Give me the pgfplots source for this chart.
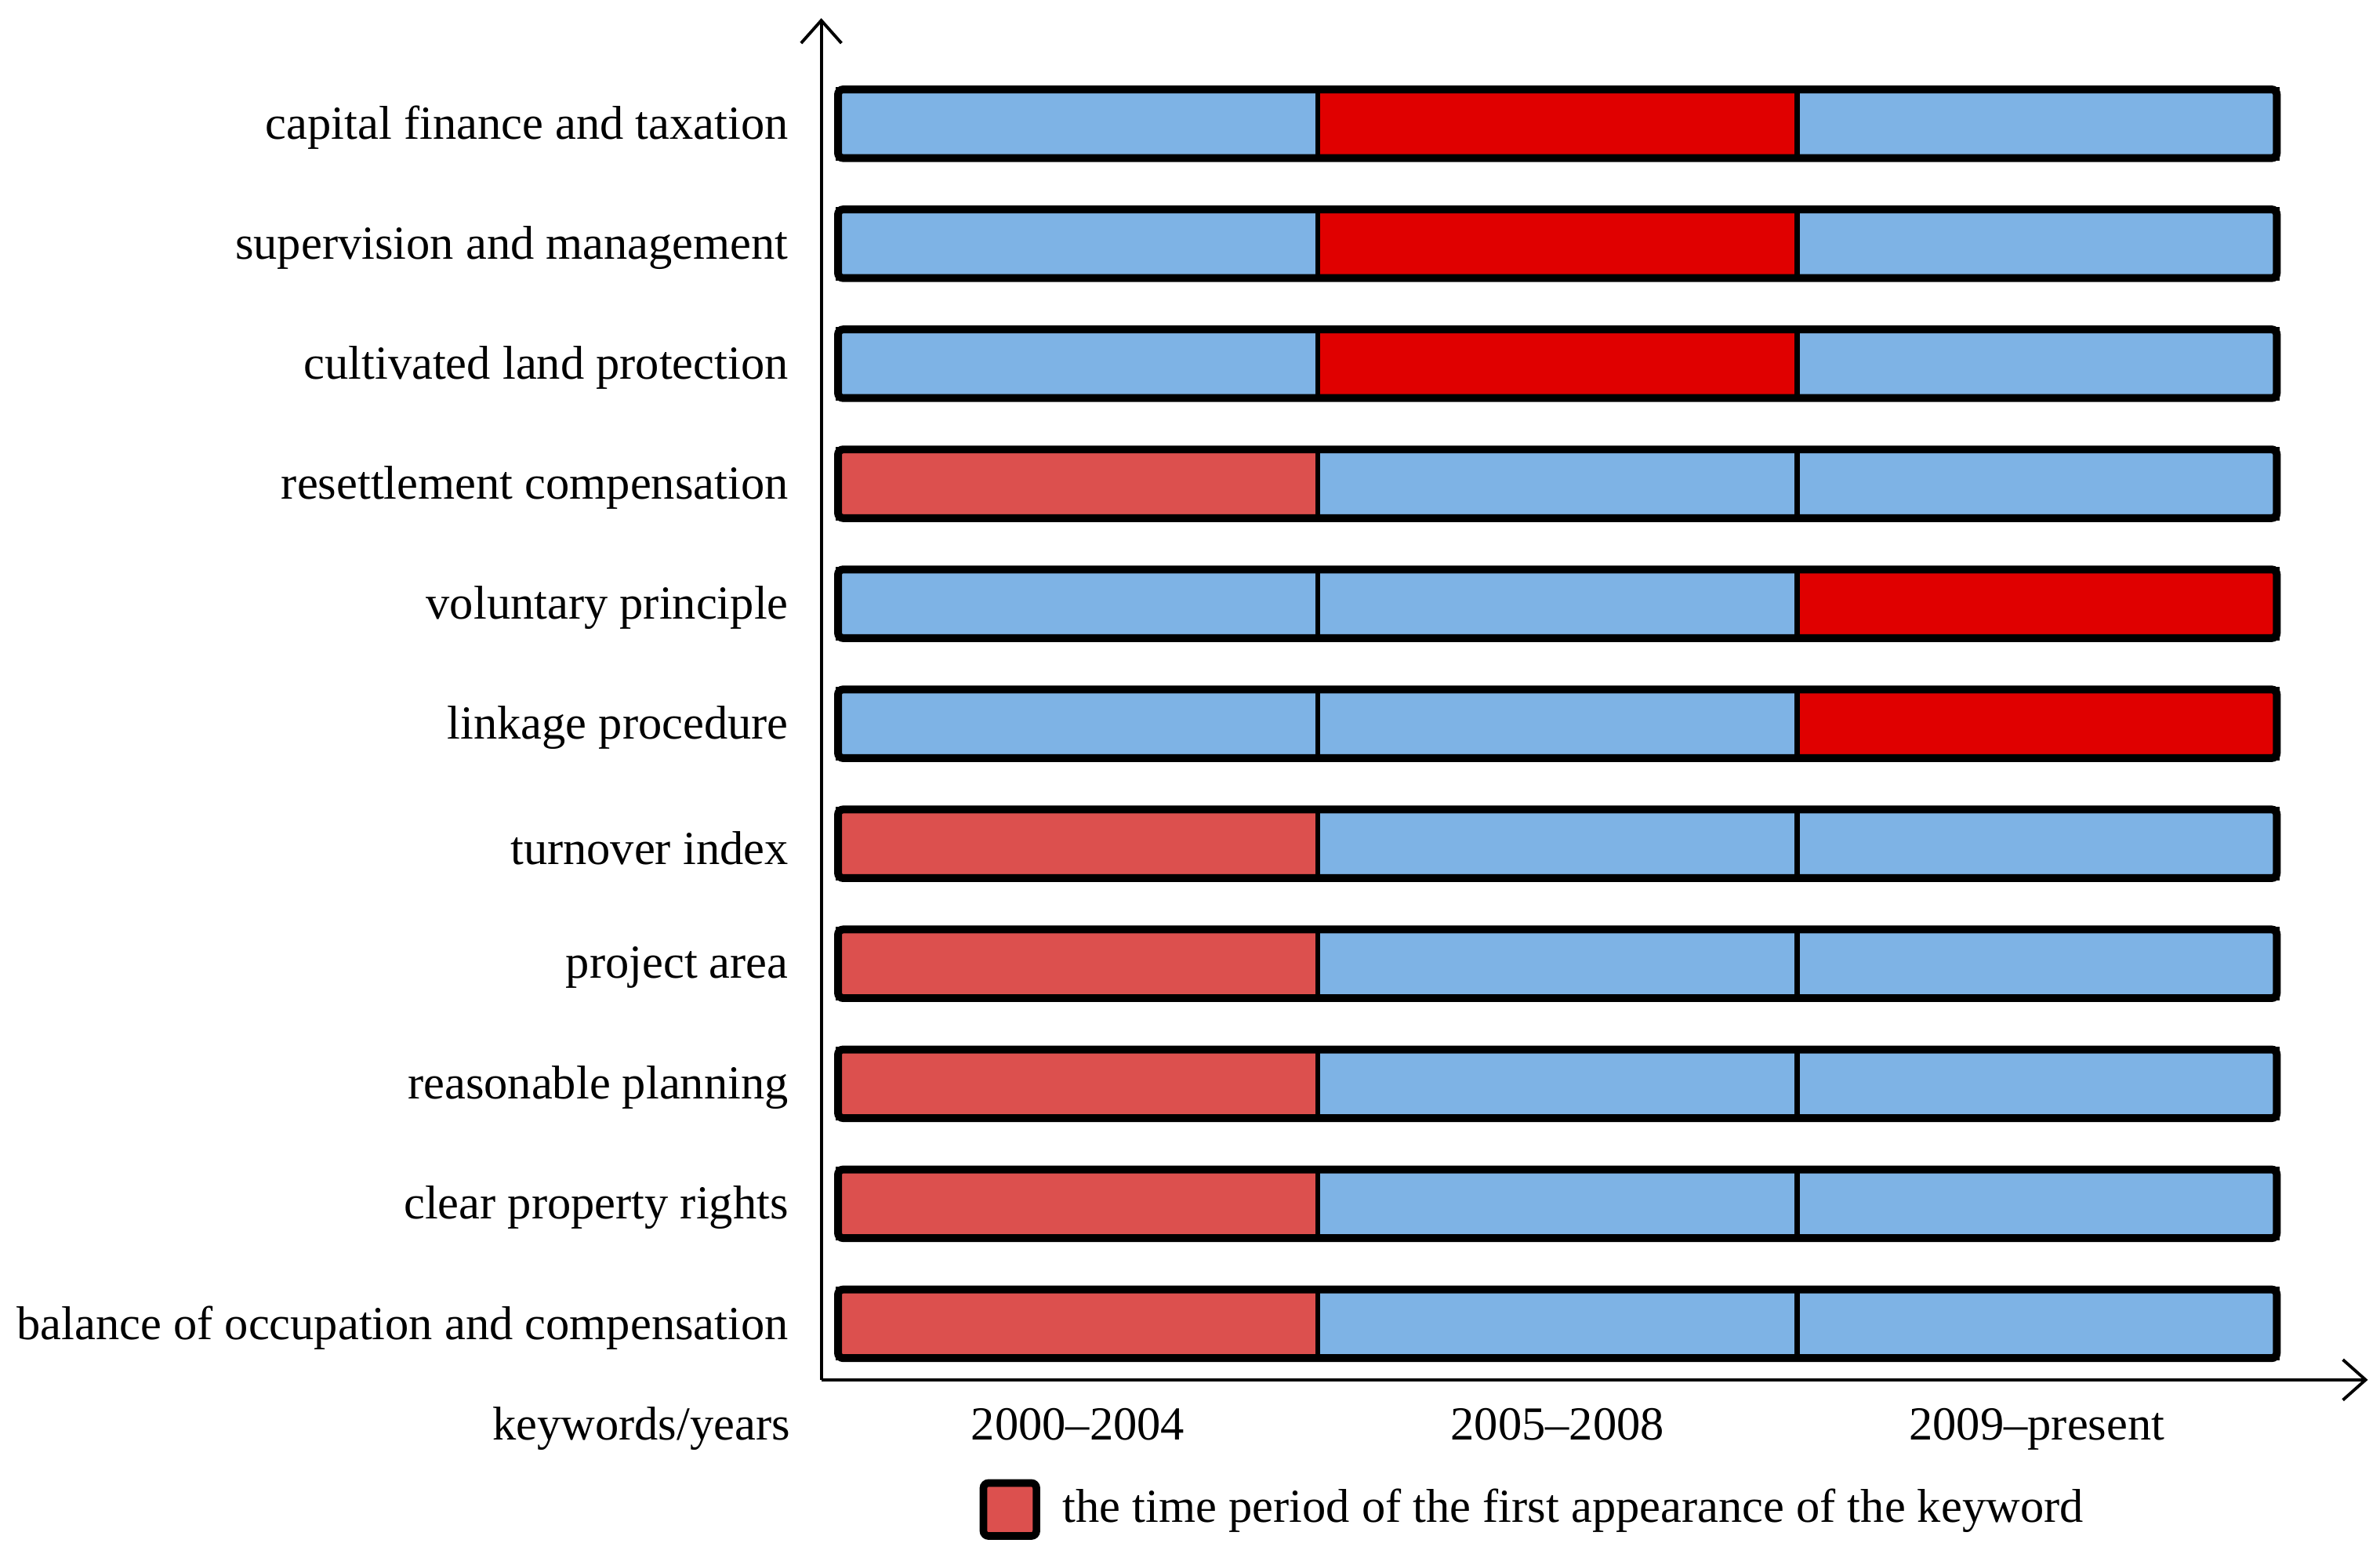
\documentclass[border=0pt]{standalone}
\usepackage{fontspec}
\setmainfont{Liberation Serif}
\usepackage{pgfplots}
\pgfplotsset{compat=1.18}
\usetikzlibrary{arrows.meta}
\definecolor{cellblue}{RGB}{126,179,229}
\definecolor{firstred}{RGB}{220,80,78}
\definecolor{hotred}{RGB}{224,0,0}
\newcommand{\lbl}{\fontsize{9.4}{11}\selectfont}

\begin{document}
\begin{tikzpicture}
\pgfplotsset{
    cell/.style={xbar, bar shift=0pt, bar width=13.6pt, draw=black, line width=1pt},
}
\begin{axis}[
    scale only axis,
    width=306.6pt, height=269.9pt,
    xmin=-0.035, xmax=3.19,
    ymin=0.533, ymax=11.88,
    axis lines=left,
    axis line style={line width=0.6pt, -{Straight Barb[length=4.5pt,width=8pt]}},
    clip=false,
    xtick={0.5,1.5,2.5},
    xticklabels={2000--2004, 2005--2008, 2009--present},
    ytick={1,...,11},
    yticklabels={balance of occupation and compensation, clear property rights,
        reasonable planning, project area, turnover index, linkage procedure,
        voluntary principle, resettlement compensation, cultivated land protection,
        supervision and management, capital finance and taxation},
    major tick length=0pt,
    tick label style={font=\lbl},
    xticklabel style={anchor=base, yshift=-11.9pt},
    yticklabel style={anchor=east, xshift=-3pt, yshift=-0.8pt},
    legend style={draw=none, fill=none, at={(0,0)}, anchor=west,
        xshift=31.2pt, yshift=-25.7pt, font=\lbl, inner sep=0pt,
        /tikz/every odd column/.append style={column sep=2.5pt}},
]
    % 2009-present
    \addplot[cell, fill=cellblue, forget plot]
        coordinates {(3,1) (3,2) (3,3) (3,4) (3,5) (3,8) (3,9) (3,10) (3,11)};
    \addplot[cell, fill=hotred, forget plot]
        coordinates {(3,6) (3,7)};
    % 2005-2008
    \addplot[cell, fill=cellblue, forget plot]
        coordinates {(2,1) (2,2) (2,3) (2,4) (2,5) (2,6) (2,7) (2,8)};
    \addplot[cell, fill=hotred, forget plot]
        coordinates {(2,9) (2,10) (2,11)};
    % 2000-2004
    \addplot[cell, fill=cellblue, forget plot]
        coordinates {(1,6) (1,7) (1,9) (1,10) (1,11)};
    \addplot[cell, fill=firstred,
        legend image code/.code={\draw[fill=firstred, line width=1.5pt, rounded corners=1pt]
            (0pt,-5.25pt) rectangle (10.5pt,5.25pt);}]
        coordinates {(1,1) (1,2) (1,3) (1,4) (1,5) (1,8)};
    \addlegendentry{the time period of the first appearance of the keyword}
    % outline of each row
    \addplot[xbar, bar shift=0pt, bar width=13.6pt, draw=black, line width=1.55pt,
        fill=none, rounded corners=1pt, forget plot]
        coordinates {(3,1) (3,2) (3,3) (3,4) (3,5) (3,6) (3,7) (3,8) (3,9) (3,10) (3,11)};

    \node[anchor=base east, font=\lbl, inner sep=0pt]
        at ([xshift=-6pt, yshift=-11.9pt]rel axis cs:0,0) {keywords/years};
    \path ([xshift=-161.4pt, yshift=-34.5pt]rel axis cs:0,0)
        rectangle ([xshift=2.4pt, yshift=3.6pt]rel axis cs:1,1);
\end{axis}
\end{tikzpicture}
\end{document}
